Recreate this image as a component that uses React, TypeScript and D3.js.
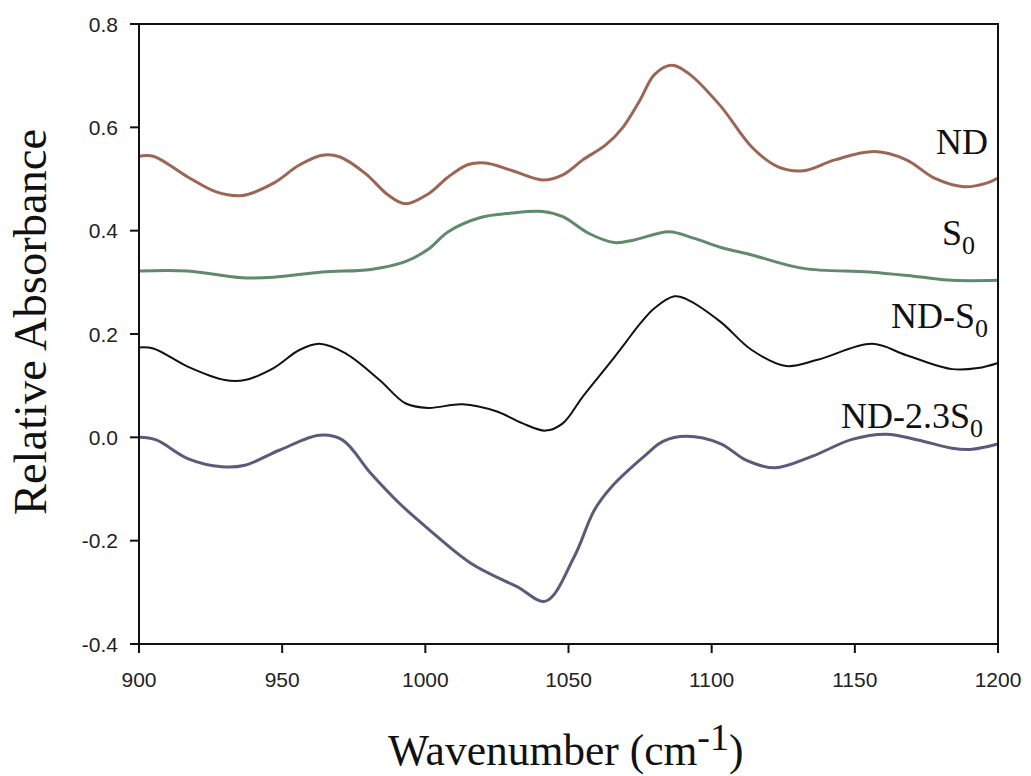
import React from "react";
import * as d3 from "d3";

const xTicks = [900, 950, 1000, 1050, 1100, 1150, 1200];
const yTicks = [-0.4, -0.2, 0.0, 0.2, 0.4, 0.6, 0.8];

const ndX = [900, 905, 917, 927, 936, 947, 956, 964, 970, 979, 987, 993, 1001, 1008, 1015, 1021, 1030, 1041, 1048, 1055, 1063, 1069, 1075, 1080, 1086, 1092, 1103, 1114, 1123, 1132, 1143, 1157, 1168, 1178, 1188, 1196, 1200];
const ndY = [0.544, 0.544, 0.504, 0.475, 0.468, 0.492, 0.527, 0.546, 0.543, 0.511, 0.469, 0.452, 0.471, 0.504, 0.528, 0.531, 0.517, 0.498, 0.508, 0.537, 0.566, 0.600, 0.653, 0.702, 0.720, 0.704, 0.642, 0.562, 0.524, 0.516, 0.537, 0.553, 0.537, 0.501, 0.485, 0.492, 0.502];

const s0X = [900, 917, 936, 947, 964, 981, 993, 1001, 1008, 1019, 1030, 1041, 1048, 1057, 1066, 1073, 1085, 1094, 1103, 1114, 1132, 1155, 1172, 1184, 1200];
const s0Y = [0.322, 0.322, 0.309, 0.310, 0.320, 0.325, 0.340, 0.364, 0.398, 0.425, 0.434, 0.437, 0.427, 0.395, 0.377, 0.382, 0.398, 0.385, 0.368, 0.353, 0.327, 0.320, 0.311, 0.304, 0.304];

const ndS0X = [900, 905, 917, 930, 937, 947, 956, 963, 972, 984, 993, 1001, 1013, 1025, 1034, 1042, 1048, 1055, 1065, 1070, 1075, 1080, 1087, 1091, 1103, 1114, 1126, 1137, 1156, 1168, 1184, 1193, 1200];
const ndS0Y = [0.174, 0.172, 0.137, 0.111, 0.111, 0.134, 0.169, 0.181, 0.163, 0.111, 0.066, 0.057, 0.064, 0.050, 0.027, 0.013, 0.027, 0.079, 0.148, 0.184, 0.220, 0.250, 0.273, 0.268, 0.224, 0.169, 0.138, 0.150, 0.181, 0.159, 0.132, 0.134, 0.144];

const nd23X = [900, 906, 917, 929, 937, 949, 963, 971, 981, 991, 1001, 1016, 1032, 1042, 1052, 1059, 1065, 1077, 1083, 1091, 1103, 1112, 1122, 1135, 1149, 1161, 1172, 1184, 1191, 1200];
const nd23Y = [0.0, -0.005, -0.041, -0.057, -0.054, -0.025, 0.004, -0.005, -0.070, -0.128, -0.177, -0.244, -0.289, -0.317, -0.231, -0.141, -0.096, -0.034, -0.008, 0.002, -0.012, -0.044, -0.059, -0.037, -0.004, 0.006, -0.005, -0.021, -0.023, -0.013];

const seriesNames = ["ND", "S0", "ND-S0", "ND-2.3S0"];
const seriesColors = ["#9c6654", "#5f8a6b", "#111111", "#5b5a7a"];
const seriesWidths = [3, 3, 2, 3];

const W = 1031, H = 776;
const M = { left: 139, right: 998, top: 24, bottom: 644 };

export default function App() {
  const x = d3.scaleLinear().domain([900, 1200]).range([M.left, M.right]);
  const y = d3.scaleLinear().domain([-0.4, 0.8]).range([M.bottom, M.top]);
  const line = d3
    .line<[number, number]>()
    .x((d) => x(d[0]))
    .y((d) => y(d[1]))
    .curve(d3.curveCatmullRom.alpha(0.5));

  const data: [number, number][][] = [
    ndX.map((v, i) => [v, ndY[i]]),
    s0X.map((v, i) => [v, s0Y[i]]),
    ndS0X.map((v, i) => [v, ndS0Y[i]]),
    nd23X.map((v, i) => [v, nd23Y[i]]),
  ];

  const serif = "'Liberation Serif', 'Times New Roman', serif";
  const sans = "'Liberation Sans', Arial, sans-serif";
  const fmt = (v: number) => d3.format(".1f")(v).replace("\u2212", "-");

  const labelFs = 36;
  const subFs = 26;
  const labelPos = [
    { x: 936, y: 154 },
    { x: 942, y: 245 },
    { x: 891, y: 328 },
    { x: 841, y: 428 },
  ];

  const renderLabel = (name: string) => {
    const m = name.match(/^(.*)S0$/);
    if (!m) return <tspan>{name}</tspan>;
    return (
      <>
        <tspan>{m[1]}S</tspan>
        <tspan fontSize={subFs} dy={9}>0</tspan>
      </>
    );
  };

  return (
    <svg
      width={W}
      height={H}
      style={{ position: "absolute", left: 0, top: 0, background: "#fff" }}
    >
      <rect x={0} y={0} width={W} height={H} fill="#fff" />
      {data.map((d, i) => (
        <path
          key={i}
          d={line(d) || ""}
          fill="none"
          stroke={seriesColors[i]}
          strokeWidth={seriesWidths[i]}
          strokeLinejoin="round"
        />
      ))}
      <rect
        x={M.left}
        y={M.top}
        width={M.right - M.left}
        height={M.bottom - M.top}
        fill="none"
        stroke="#111"
        strokeWidth={2}
      />
      {xTicks.map((t) => (
        <g key={"x" + t}>
          <line x1={x(t)} x2={x(t)} y1={M.bottom} y2={M.bottom + 9} stroke="#111" strokeWidth={2} />
          <text x={x(t)} y={687} textAnchor="middle" fontFamily={sans} fontSize={21} fill="#222">
            {t}
          </text>
        </g>
      ))}
      {yTicks.map((t) => (
        <g key={"y" + t}>
          <line x1={M.left - 9} x2={M.left} y1={y(t)} y2={y(t)} stroke="#111" strokeWidth={2} />
          <text x={118} y={y(t) + 7.5} textAnchor="end" fontFamily={sans} fontSize={21} fill="#222">
            {fmt(t)}
          </text>
        </g>
      ))}
      {seriesNames.map((n, i) => (
        <text
          key={n}
          x={labelPos[i].x}
          y={labelPos[i].y}
          fontFamily={serif}
          fontSize={labelFs}
          fill="#111"
        >
          {renderLabel(n)}
        </text>
      ))}
      <text
        transform="translate(46,322) rotate(-90)"
        textAnchor="middle"
        fontFamily={serif}
        fontSize={46.5}
        fill="#111"
      >
        Relative Absorbance
      </text>
      <text x={388} y={765} fontFamily={serif} fontSize={43.5} fill="#111">
        <tspan>Wavenumber (cm</tspan>
        <tspan dy={-15} fontSize={38}>-1</tspan>
        <tspan dy={15}>)</tspan>
      </text>
    </svg>
  );
}
